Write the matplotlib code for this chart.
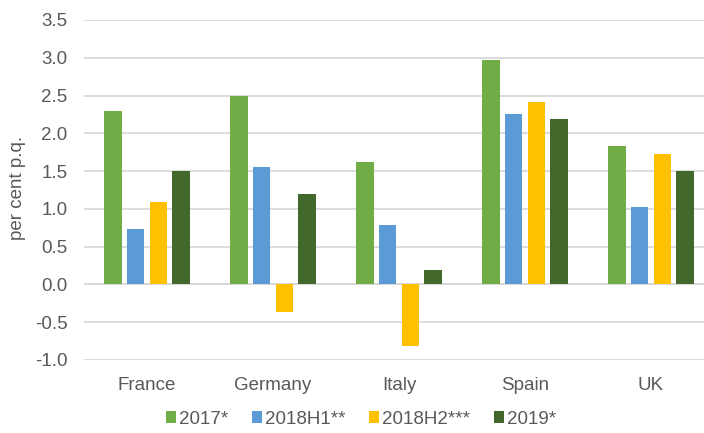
import matplotlib
matplotlib.use("Agg")
import matplotlib.pyplot as plt
import numpy as np
from matplotlib.patches import Patch

plt.rcParams['font.family'] = ['Liberation Sans', 'DejaVu Sans']

categories = ["France", "Germany", "Italy", "Spain", "UK"]
series_names = ["2017*", "2018H1**", "2018H2***", "2019*"]
v2017 = [2.30, 2.49, 1.62, 2.97, 1.83]
v2018h1 = [0.73, 1.56, 0.79, 2.26, 1.02]
v2018h2 = [1.09, -0.36, -0.81, 2.42, 1.72]
v2019 = [1.50, 1.20, 0.19, 2.19, 1.50]
yticks = [-1.0, -0.5, 0.0, 0.5, 1.0, 1.5, 2.0, 2.5, 3.0, 3.5]
colors = ["#70AD47", "#5B9BD5", "#FFC000", "#43682B"]

series = [v2017, v2018h1, v2018h2, v2019]

fig = plt.figure(figsize=(7.04, 4.33), dpi=100)
ax = fig.add_axes([84/704, 1-360/433, 630/704, 340/433])

x = np.arange(len(categories))
step = 0.18
width = 0.14
for i, (vals, c) in enumerate(zip(series, colors)):
    ax.bar(x + (i - 1.5) * step, vals, width=width, color=c, zorder=3)

ax.set_xlim(-0.5, len(categories) - 0.5)
ax.set_ylim(-1.0, 3.5)
ax.set_yticks(yticks)
ax.set_yticklabels([f"{t:.1f}" for t in yticks])
ax.set_xticks(x)
ax.set_xticklabels(categories)
ax.grid(axis='y', color='#D9D9D9', linewidth=1.3, zorder=0)
ax.axhline(0, color='#D9D9D9', linewidth=1.3, zorder=1)
for s in ax.spines.values():
    s.set_visible(False)
ax.tick_params(axis='both', length=0, labelsize=13.5, colors='#595959')
ax.tick_params(axis='y', pad=12)
ax.tick_params(axis='x', pad=12)
fig.text(18/704, 1-188/433, "per cent p.q.", rotation=90, ha='center', va='center',
         fontsize=13.5, color='#595959')

handles = [Patch(facecolor=c, edgecolor='none') for c in colors]
fig.legend(handles, series_names, loc='center', bbox_to_anchor=(361/704, 1-419/433),
           ncol=4, frameon=False, fontsize=13.5, labelcolor='#595959',
           handlelength=0.55, handleheight=0.55, handletextpad=0.15, columnspacing=1.25)

fig.savefig("out.png", dpi=100)
